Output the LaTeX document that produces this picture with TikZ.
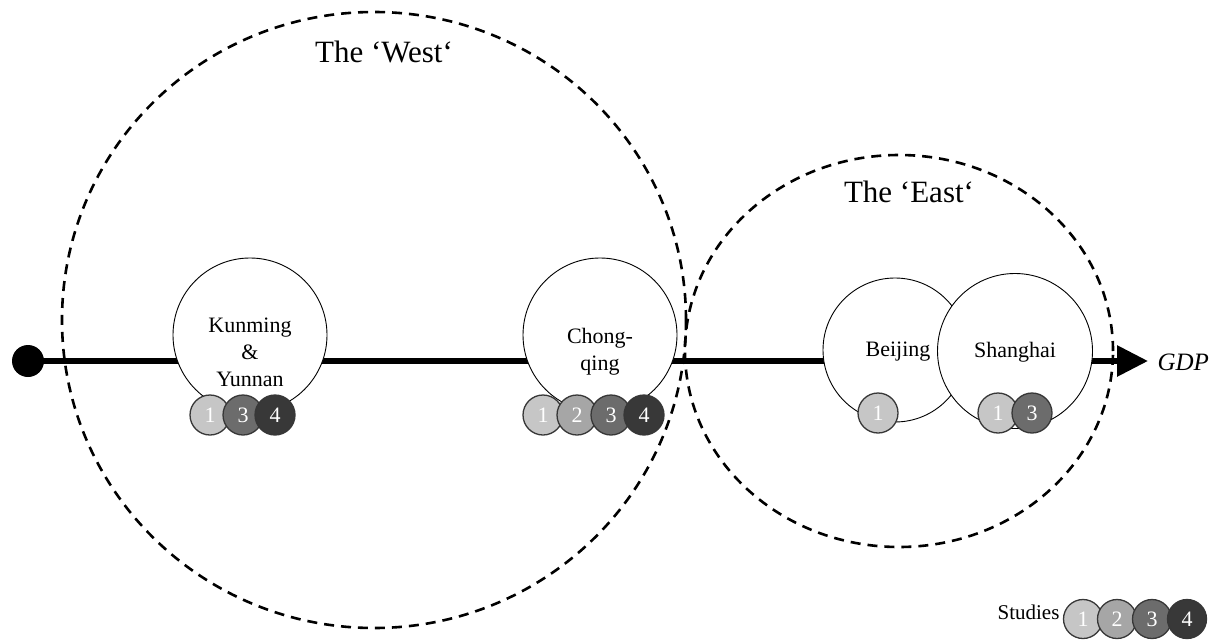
\documentclass[tikz,border=0pt]{standalone}
\usepackage{fontspec}
\setmainfont{Liberation Serif}
\usetikzlibrary{arrows.meta,shapes.geometric}

\definecolor{studyA}{RGB}{198,198,198}
\definecolor{studyB}{RGB}{166,166,166}
\definecolor{studyC}{RGB}{108,108,108}
\definecolor{studyD}{RGB}{56,56,56}
\definecolor{rimgray}{RGB}{55,55,55}

\tikzset{
  region/.style={ellipse, draw, dashed, line width=2.6pt,
    dash pattern=on 10pt off 7pt, inner sep=0pt, fill=none},
  city/.style={circle, draw, line width=0.9pt, fill=white,
    minimum size=#1, inner sep=0pt},
  citytext/.style={align=center, font=\fontsize{22}{27}\selectfont},
  study/.style={circle, draw=rimgray, line width=1.3pt, fill=#1,
    minimum size=40pt, inner sep=0pt, text=white,
    font=\fontsize{22}{22}\selectfont},
  zonetitle/.style={font=\fontsize{31}{31}\selectfont},
  axisline/.style={line width=6pt, -{Triangle[length=31pt,width=30pt]}},
  origindot/.style={circle, fill=black, minimum size=32pt, inner sep=0pt},
}

\begin{document}
\begin{tikzpicture}[x=1pt, y=-1pt]
  \useasboundingbox (0,0) rectangle (1220,642);

  % growth axis
  \node[origindot] (origin) at (28,361) {};
  \coordinate (gdptip) at (1148,361);
  \draw[axisline] (origin.center) -- (gdptip);
  \node[anchor=west, font=\fontsize{25}{25}\selectfont\itshape] (gdp) at (1154,362) {GDP};

  % cities
  \node[city=154pt] (kunming) at (250,335) {};
  \node[citytext] (kunmingtext) at (250,352) {Kunming\\\&\\Yunnan};

  \node[city=154pt] (chongqing) at (600,335) {};
  \node[citytext] (chongqingtext) at (600,352) {Chong-\\qing};

  \node[city=144pt] (beijing) at (895,350) {};
  \node[city=155pt] (shanghai) at (1015,351) {};
  \node[citytext] (beijingtext) at (898,352) {Beijing};
  \node[citytext] (shanghaitext) at (1015,352) {Shanghai};

  % studies per city
  \node[study=studyA] (kunA) at (210,415) {1};
  \node[study=studyC] (kunC) at (243,415) {3};
  \node[study=studyD] (kunD) at (275,415) {4};

  \node[study=studyA] (chqA) at (543,415) {1};
  \node[study=studyB] (chqB) at (577,415) {2};
  \node[study=studyC] (chqC) at (611,415) {3};
  \node[study=studyD] (chqD) at (644,415) {4};

  \node[study=studyA] (bjA) at (878,413) {1};

  \node[study=studyA] (shA) at (998,413) {1};
  \node[study=studyC] (shC) at (1032,413) {3};

  % regions
  \node[region, minimum width=624pt, minimum height=616pt] (west) at (374,320) {};
  \node[region, minimum width=428pt, minimum height=392pt] (east) at (899,351) {};
  \node[zonetitle] (westtitle) at (384,52) {The ‘West‘};
  \node[zonetitle] (easttitle) at (909,192) {The ‘East‘};

  % legend
  \node[anchor=east, font=\fontsize{21}{21}\selectfont] (studies) at (1063,612) {Studies};
  \node[study=studyA, minimum size=39pt] (legA) at (1083,619) {1};
  \node[study=studyB, minimum size=39pt] (legB) at (1117,619) {2};
  \node[study=studyC, minimum size=39pt] (legC) at (1152,619) {3};
  \node[study=studyD, minimum size=39pt] (legD) at (1187,619) {4};
\end{tikzpicture}
\end{document}
